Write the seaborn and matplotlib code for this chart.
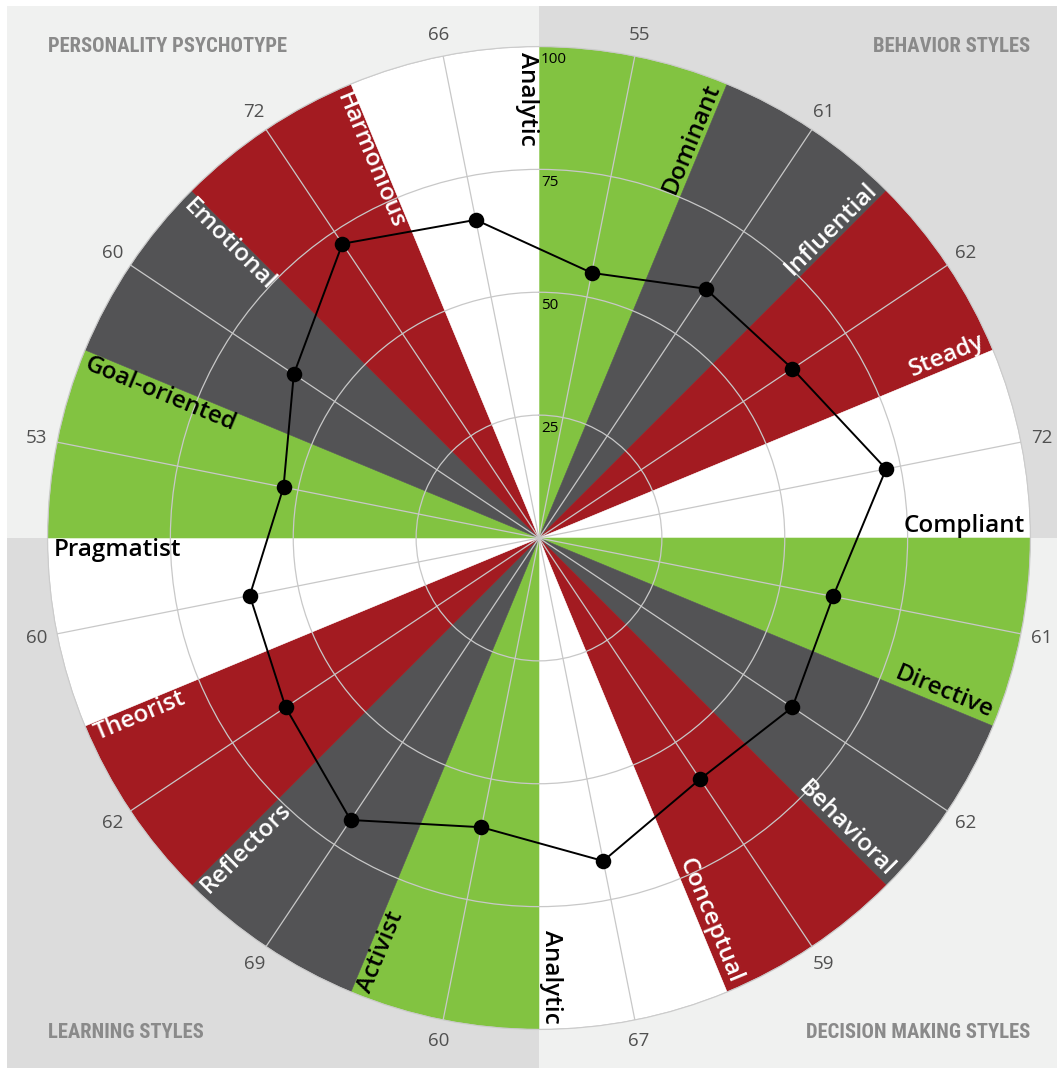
import numpy as np
import matplotlib
matplotlib.use("Agg")
import matplotlib.pyplot as plt
import seaborn as sns
from matplotlib.patches import Rectangle
from matplotlib import font_manager

# ---------------- data ----------------
categories = ["Dominant", "Influential", "Steady", "Compliant",
              "Directive", "Behavioral", "Conceptual", "Analytic",
              "Activist", "Reflectors", "Theorist", "Pragmatist",
              "Goal-oriented", "Emotional", "Harmonious", "Analytic"]
values = [55, 61, 62, 72, 61, 62, 59, 67, 60, 69, 62, 60, 53, 60, 72, 66]
group_titles = ["BEHAVIOR STYLES", "DECISION MAKING STYLES",
                "LEARNING STYLES", "PERSONALITY PSYCHOTYPE"]
radial_ticks = [25, 50, 75, 100]
radial_tick_labels = ["25", "50", "75", "100"]

# ---------------- style ----------------
GREEN, DARK, RED, WHITE = "#82c341", "#535355", "#a31b21", "#ffffff"
sector_colors = [GREEN, DARK, RED, WHITE] * 4
label_colors = ["black", "white", "white", "black"] * 4
LIGHT_BG, GRAY_BG = "#f0f1f0", "#dcdcdc"
TITLE_COLOR = "#8a8a8a"

sns.set_theme(style="white")
plt.rcParams["font.family"] = ["Open Sans", "DejaVu Sans"]

# pick a condensed font for the quadrant titles if one is installed
entries = font_manager.fontManager.ttflist
names = {f.name for f in entries}
title_kw = None
for cand in ["Roboto Condensed", "Liberation Sans Narrow", "Open Sans Condensed",
             "Noto Sans Condensed", "DejaVu Sans Condensed"]:
    if cand in names:
        title_kw = dict(family=[cand, "DejaVu Sans"])
        break
if title_kw is None:
    has_cond = any(f.name == "DejaVu Sans" and "ondensed" in f.fname for f in entries)
    if has_cond:
        title_kw = dict(family=["DejaVu Sans"], stretch="condensed")
    else:
        title_kw = dict(family=["Roboto", "DejaVu Sans"])

W, H = 1057, 1068
fig = plt.figure(figsize=(W / 100, H / 100), dpi=100, facecolor="white")

# background quadrants (pixel coordinates)
bg = fig.add_axes([0, 0, 1, 1], zorder=0)
bg.set_xlim(0, W)
bg.set_ylim(H, 0)
bg.axis("off")
cx, cy = 539, 538
x0, y0 = 7, 6
bg.add_patch(Rectangle((x0, y0), cx - x0, cy - y0, color=LIGHT_BG, lw=0))
bg.add_patch(Rectangle((cx, y0), W - cx, cy - y0, color=GRAY_BG, lw=0))
bg.add_patch(Rectangle((x0, cy), cx - x0, H - cy, color=GRAY_BG, lw=0))
bg.add_patch(Rectangle((cx, cy), W - cx, H - cy, color=LIGHT_BG, lw=0))

# fit title font size so the longest title spans its width in the reference
renderer = fig.canvas.get_renderer()
probe = bg.text(0, 0, group_titles[3], weight="heavy", fontsize=16, **title_kw)
wpx = probe.get_window_extent(renderer).width
probe.remove()
title_size = min(17.5, 16 * 240.0 / wpx)

tkw = dict(weight="heavy", fontsize=title_size, color=TITLE_COLOR, va="center", **title_kw)
bg.text(1030, 47, group_titles[0], ha="right", **tkw)
bg.text(1030, 1032, group_titles[1], ha="right", **tkw)
bg.text(48, 1032, group_titles[2], ha="left", **tkw)
bg.text(48, 47, group_titles[3], ha="left", **tkw)

# polar axes
R = 491.5
ax = fig.add_axes([(cx - R) / W, (H - cy - R) / H, 2 * R / W, 2 * R / H],
                  projection="polar", zorder=1)
ax.set_facecolor("none")
ax.set_theta_zero_location("N")
ax.set_theta_direction(-1)

n = len(categories)
step = 2 * np.pi / n
theta = np.arange(n) * step + step / 2
rmax = radial_ticks[-1]

ax.bar(theta, np.full(n, rmax), width=step, color=sector_colors,
       edgecolor=sector_colors, linewidth=0.4, zorder=1)
ax.set_ylim(0, rmax)
ax.set_xticks(theta)
ax.set_xticklabels([])
ax.set_yticks(radial_ticks)
ax.set_yticklabels([])
ax.set_axisbelow(False)
ax.grid(True, color="#c8c8c8", lw=0.9)
ax.spines["polar"].set_color("#d0d0d0")
ax.spines["polar"].set_linewidth(0.8)

# data line + markers
th_closed = np.append(theta, theta[0])
v_closed = values + [values[0]]
sns.lineplot(x=th_closed, y=v_closed, sort=False, estimator=None, ax=ax,
             color="black", lw=1.4, zorder=5)
sns.scatterplot(x=theta, y=values, ax=ax, color="black", s=125,
                linewidth=0, zorder=6)

# category labels along sector edges
edges = (np.arange(n) + 1) * step
for i, (name, col) in enumerate(zip(categories, label_colors)):
    a_deg = np.degrees(edges[i])
    if i < n // 2:
        rot, ha, va = 90 - a_deg, "right", "bottom"
    else:
        rot, ha, va = 270 - a_deg, "left", "top"
    ax.text(edges[i], 98.8, name, rotation=rot, rotation_mode="anchor",
            ha=ha, va=va, color=col, fontsize=17.5, weight="semibold", zorder=7)

# value labels outside the circle
for th, v in zip(theta, values):
    ax.text(th, 104.3, str(v), ha="center", va="center", color="#505050",
            fontsize=13.5, weight="medium", clip_on=False, zorder=7)

# radial tick labels
for t, lab in zip(radial_ticks, radial_tick_labels):
    ax.annotate(lab, xy=(0, t), xytext=(2, -13), textcoords="offset pixels",
                ha="left", va="center", fontsize=11, color="black", zorder=7)

fig.savefig("out.png", dpi=100, facecolor="white")
